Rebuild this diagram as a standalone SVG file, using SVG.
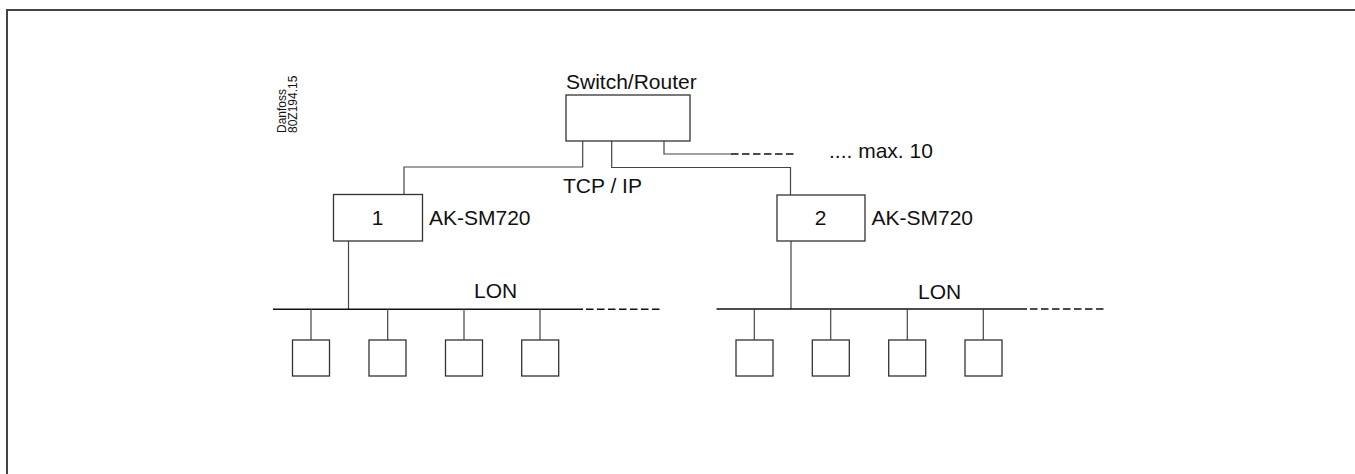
<svg xmlns="http://www.w3.org/2000/svg" width="1355" height="474" viewBox="0 0 1355 474">
<style>
.frame{fill:none;stroke:#444;stroke-width:2}
.box{fill:#fff;stroke:#333;stroke-width:1.3}
.ln{fill:none;stroke:#444;stroke-width:1.2}
.bus{fill:none;stroke:#111;stroke-width:1.5}
.dash{fill:none;stroke:#111;stroke-width:1.5;stroke-dasharray:7.5,3.5}
.t{font-family:"Liberation Sans",Arial,sans-serif;font-size:21px;fill:#111}
.s{font-family:"Liberation Sans",Arial,sans-serif;font-size:12px;fill:#111}
</style>
<rect width="1355" height="474" fill="#fff"/>
<path class="frame" d="M7,474 V10 H1355"/>
<g id="label-code">
<text class="s" transform="translate(285.5,133) rotate(-90)">Danfoss</text>
<text class="s" transform="translate(297,133) rotate(-90)">80Z194.15</text>
</g>
<g id="connectors">
<path class="ln" d="M582.7,141 V167 H404 V194"/>
<path class="ln" d="M611.7,141 V167.5 H790.5 V195"/>
<path class="ln" d="M664,141 V154 H731"/>
<path class="dash" d="M731,154 H797"/>
<path class="ln" d="M348.5,241 V309"/>
<path class="ln" d="M791,241 V309"/>
<path class="bus" d="M273,309.3 H583"/>
<path class="dash" d="M586,309.3 H661"/>
<path class="bus" d="M716.5,309 H1027"/>
<path class="dash" d="M1030,309 H1104"/>
<path class="ln" d="M311,309 V340 M387.7,309 V340 M464,309 V340 M540,309 V340"/>
<path class="ln" d="M754.3,309 V340 M830.7,309 V340 M907.3,309 V340 M983.3,309 V340"/>
</g>
<g id="switch">
<rect class="box" x="566" y="95" width="124" height="46"/>
<text class="t" x="566" y="89">Switch/Router</text>
</g>
<text class="t" x="829" y="158">.... max. 10</text>
<text class="t" x="563" y="193">TCP / IP</text>
<g id="sm1">
<rect class="box" x="333.5" y="194.5" width="89" height="46.5"/>
<text class="t" x="377.5" y="225" text-anchor="middle">1</text>
<text class="t" x="429" y="225">AK-SM720</text>
</g>
<g id="sm2">
<rect class="box" x="777" y="195" width="88" height="46"/>
<text class="t" x="820.5" y="224.5" text-anchor="middle">2</text>
<text class="t" x="871.5" y="224.5">AK-SM720</text>
</g>
<text class="t" x="474" y="298">LON</text>
<text class="t" x="918" y="299">LON</text>
<g id="dev1-1"><rect class="box" x="292.5" y="340" width="37" height="36"/></g>
<g id="dev1-2"><rect class="box" x="369" y="340" width="37" height="36"/></g>
<g id="dev1-3"><rect class="box" x="445.5" y="340" width="37" height="36"/></g>
<g id="dev1-4"><rect class="box" x="521.7" y="340" width="37" height="36"/></g>
<g id="dev2-1"><rect class="box" x="736" y="340" width="37" height="36"/></g>
<g id="dev2-2"><rect class="box" x="812.3" y="340" width="37" height="36"/></g>
<g id="dev2-3"><rect class="box" x="888.7" y="340" width="37" height="36"/></g>
<g id="dev2-4"><rect class="box" x="965" y="340" width="37" height="36"/></g>
</svg>
